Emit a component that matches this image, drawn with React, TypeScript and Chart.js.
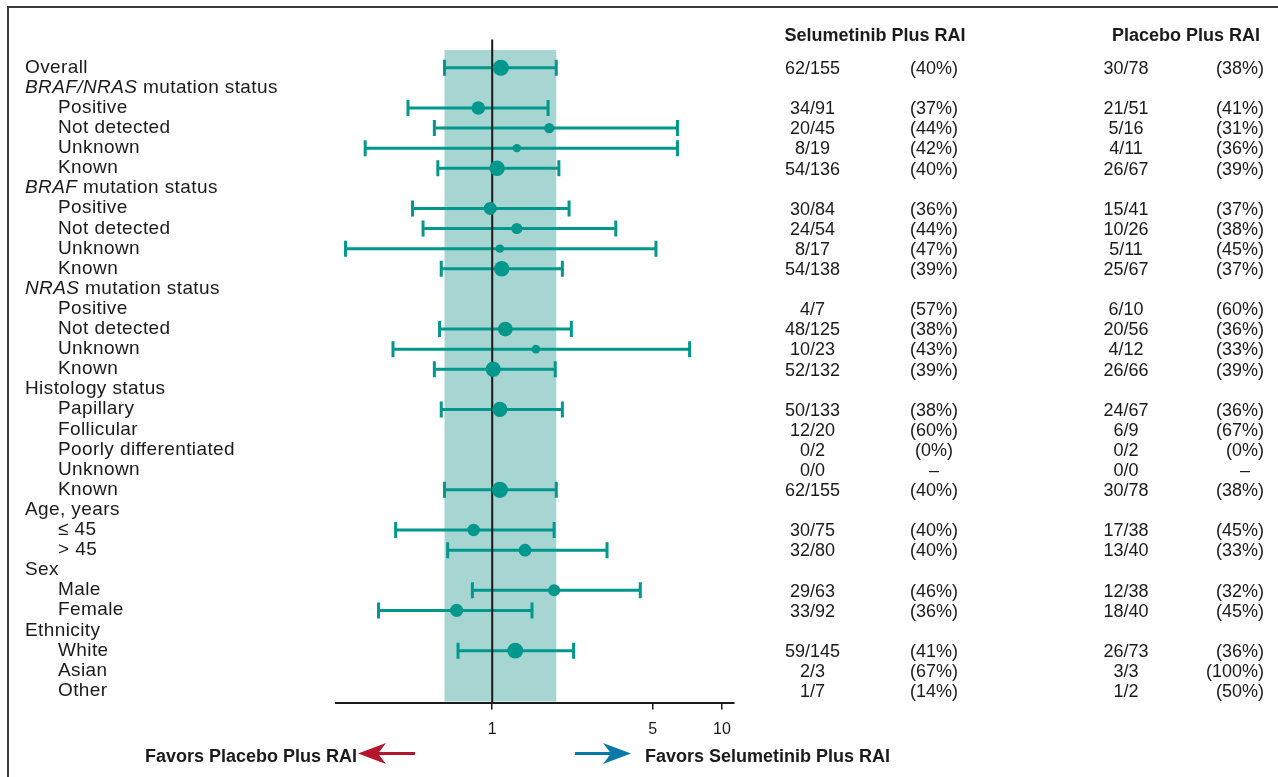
import React, { useEffect, useRef } from 'react';
import { Chart, registerables } from 'chart.js';

Chart.register(...registerables);

// ---------- data ----------
const rowLabels = [
  'Overall',
  '*BRAF/NRAS* mutation status',
  'Positive', 'Not detected', 'Unknown', 'Known',
  '*BRAF* mutation status',
  'Positive', 'Not detected', 'Unknown', 'Known',
  '*NRAS* mutation status',
  'Positive', 'Not detected', 'Unknown', 'Known',
  'Histology status',
  'Papillary', 'Follicular', 'Poorly differentiated', 'Unknown', 'Known',
  'Age, years',
  '\u2264 45', '> 45',
  'Sex',
  'Male', 'Female',
  'Ethnicity',
  'White', 'Asian', 'Other',
];

// 0 = group / top level, 1 = subgroup
const rowLevel = [0, 0, 1, 1, 1, 1, 0, 1, 1, 1, 1, 0, 1, 1, 1, 1, 0, 1, 1, 1, 1, 1, 0, 1, 1, 0, 1, 1, 0, 1, 1, 1];

const selFrac = ['62/155', '', '34/91', '20/45', '8/19', '54/136', '', '30/84', '24/54', '8/17', '54/138', '', '4/7', '48/125', '10/23', '52/132', '', '50/133', '12/20', '0/2', '0/0', '62/155', '', '30/75', '32/80', '', '29/63', '33/92', '', '59/145', '2/3', '1/7'];
const selPct = ['(40%)', '', '(37%)', '(44%)', '(42%)', '(40%)', '', '(36%)', '(44%)', '(47%)', '(39%)', '', '(57%)', '(38%)', '(43%)', '(39%)', '', '(38%)', '(60%)', '(0%)', '\u2013', '(40%)', '', '(40%)', '(40%)', '', '(46%)', '(36%)', '', '(41%)', '(67%)', '(14%)'];
const plaFrac = ['30/78', '', '21/51', '5/16', '4/11', '26/67', '', '15/41', '10/26', '5/11', '25/67', '', '6/10', '20/56', '4/12', '26/66', '', '24/67', '6/9', '0/2', '0/0', '30/78', '', '17/38', '13/40', '', '12/38', '18/40', '', '26/73', '3/3', '1/2'];
const plaPct = ['(38%)', '', '(41%)', '(31%)', '(36%)', '(39%)', '', '(37%)', '(38%)', '(45%)', '(37%)', '', '(60%)', '(36%)', '(33%)', '(39%)', '', '(36%)', '(67%)', '(0%)', '\u2013', '(38%)', '', '(45%)', '(33%)', '', '(32%)', '(45%)', '', '(36%)', '(100%)', '(50%)'];

const hrEst = [1.09, null, 0.87, 1.77, 1.28, 1.05, null, 0.98, 1.28, 1.08, 1.10, null, null, 1.14, 1.55, 1.01, null, 1.08, null, null, null, 1.08, null, 0.83, 1.39, null, 1.86, 0.70, null, 1.26, null, null];
const hrLow = [0.62, null, 0.43, 0.56, 0.28, 0.58, null, 0.45, 0.50, 0.23, 0.60, null, null, 0.59, 0.37, 0.56, null, 0.60, null, null, null, 0.62, null, 0.38, 0.64, null, 0.82, 0.32, null, 0.71, null, null];
const hrHigh = [1.90, null, 1.75, 6.4, 6.4, 1.95, null, 2.16, 3.45, 5.16, 2.02, null, null, 2.21, 7.23, 1.88, null, 2.02, null, null, null, 1.90, null, 1.86, 3.16, null, 4.41, 1.49, null, 2.26, null, null];

const xTicks = [1, 5, 10];
const xMin = 0.209;
const xMax = 11.28;

const colHeaders = ['Selumetinib Plus RAI', 'Placebo Plus RAI'];
const favorsLeft = 'Favors Placebo Plus RAI';
const favorsRight = 'Favors Selumetinib Plus RAI';

// ---------- styles ----------
const FONT = '"Liberation Sans", Arial, Helvetica, sans-serif';
const TEAL = '#00978d';
const BAND = '#a7d6d2';
const INK = '#1a1a1a';
const RED = '#b3172d';
const BLUE = '#0a78a8';

function denom(s: string): number {
  const p = s.split('/');
  return p.length === 2 ? Number(p[1]) : 0;
}

const points = rowLabels
  .map((_, i) => i)
  .filter((i) => hrEst[i] != null)
  .map((i) => ({ x: hrEst[i] as number, y: i, n: denom(selFrac[i]) + denom(plaFrac[i]) }));

const forestPlugin = {
  id: 'forest',
  beforeDraw(chart: any) {
    const { ctx, chartArea } = chart;
    const xs = chart.scales.x;
    const ys = chart.scales.y;
    // overall CI band
    const x0 = xs.getPixelForValue(hrLow[0] as number);
    const x1 = xs.getPixelForValue(hrHigh[0] as number);
    const yTop = ys.getPixelForValue(-0.88);
    ctx.save();
    ctx.fillStyle = BAND;
    ctx.fillRect(x0, yTop, x1 - x0, chartArea.bottom - 1 - yTop);
    ctx.restore();
  },
  beforeDatasetsDraw(chart: any) {
    const { ctx, chartArea } = chart;
    const xs = chart.scales.x;
    const ys = chart.scales.y;
    ctx.save();
    ctx.strokeStyle = TEAL;
    ctx.lineWidth = 3;
    for (let i = 0; i < rowLabels.length; i++) {
      if (hrEst[i] == null) continue;
      const py = ys.getPixelForValue(i);
      const a = xs.getPixelForValue(hrLow[i] as number);
      const b = xs.getPixelForValue(hrHigh[i] as number);
      ctx.beginPath();
      ctx.moveTo(a, py);
      ctx.lineTo(b, py);
      ctx.moveTo(a, py - 8);
      ctx.lineTo(a, py + 8);
      ctx.moveTo(b, py - 8);
      ctx.lineTo(b, py + 8);
      ctx.stroke();
    }
    // reference line at 1
    const rx = xs.getPixelForValue(1);
    ctx.strokeStyle = INK;
    ctx.lineWidth = 2;
    ctx.beginPath();
    ctx.moveTo(rx, chartArea.top);
    ctx.lineTo(rx, chartArea.bottom);
    ctx.stroke();
    ctx.restore();
  },
  afterDraw(chart: any) {
    const { ctx } = chart;
    const ys = chart.scales.y;
    ctx.save();
    // frame
    ctx.strokeStyle = '#3c3c3c';
    ctx.lineWidth = 2;
    ctx.beginPath();
    ctx.moveTo(8, 777);
    ctx.lineTo(8, 7);
    ctx.lineTo(1278, 7);
    ctx.stroke();

    ctx.fillStyle = INK;
    // column headers
    ctx.font = `bold 18px ${FONT}`;
    ctx.textAlign = 'center';
    ctx.textBaseline = 'alphabetic';
    ctx.fillText(colHeaders[0], 875, 41);
    ctx.fillText(colHeaders[1], 1186, 41);

    // row labels
    ctx.textAlign = 'left';
    for (let i = 0; i < rowLabels.length; i++) {
      const py = ys.getPixelForValue(i) + 5;
      let x = rowLevel[i] === 0 ? 25 : 58;
      const parts = rowLabels[i].split('*');
      parts.forEach((seg, k) => {
        if (!seg) return;
        ctx.font = `${k % 2 === 1 ? 'italic ' : ''}19px ${FONT}`;
        (ctx as any).letterSpacing = '0.4px';
        ctx.fillText(seg, x, py);
        x += ctx.measureText(seg).width;
      });
    }
    (ctx as any).letterSpacing = '0px';

    // numeric columns
    ctx.font = `18px ${FONT}`;
    for (let i = 0; i < rowLabels.length; i++) {
      const py = ys.getPixelForValue(i) + 6.3;
      ctx.textAlign = 'center';
      if (selFrac[i]) ctx.fillText(selFrac[i], 812.5, py);
      if (selPct[i]) ctx.fillText(selPct[i], 934, py);
      if (plaFrac[i]) ctx.fillText(plaFrac[i], 1126, py);
      ctx.textAlign = 'right';
      if (plaPct[i]) ctx.fillText(plaPct[i], plaPct[i] === '\u2013' ? 1250 : 1264, py);
    }

    // favors arrows + text
    ctx.font = `bold 18px ${FONT}`;
    ctx.textAlign = 'right';
    ctx.fillText(favorsLeft, 357, 762);
    ctx.textAlign = 'left';
    ctx.fillText(favorsRight, 645, 762);

    const ay = 753.5;
    // red arrow (pointing left)
    ctx.strokeStyle = RED;
    ctx.fillStyle = RED;
    ctx.lineWidth = 3;
    ctx.beginPath();
    ctx.moveTo(376, ay);
    ctx.lineTo(415, ay);
    ctx.stroke();
    ctx.beginPath();
    ctx.moveTo(358, ay);
    ctx.lineTo(386, ay - 10.5);
    ctx.lineTo(378, ay);
    ctx.lineTo(386, ay + 10.5);
    ctx.closePath();
    ctx.fill();
    // blue arrow (pointing right)
    ctx.strokeStyle = BLUE;
    ctx.fillStyle = BLUE;
    ctx.beginPath();
    ctx.moveTo(575, ay);
    ctx.lineTo(612, ay);
    ctx.stroke();
    ctx.beginPath();
    ctx.moveTo(631, ay);
    ctx.lineTo(603, ay - 10.5);
    ctx.lineTo(611, ay);
    ctx.lineTo(603, ay + 10.5);
    ctx.closePath();
    ctx.fill();
    ctx.restore();
  },
};

export default function App() {
  const ref = useRef<HTMLCanvasElement>(null);
  useEffect(() => {
    if (!ref.current) return;
    const chart = new Chart(ref.current, {
      type: 'scatter',
      data: {
        datasets: [
          {
            data: points as any,
            backgroundColor: TEAL,
            borderColor: TEAL,
            borderWidth: 0,
            pointRadius: points.map((p) => 2 + 0.4 * Math.sqrt(p.n)),
            pointHoverRadius: points.map((p) => 2 + 0.4 * Math.sqrt(p.n)),
          },
        ],
      },
      options: {
        animation: false,
        responsive: false,
        events: [],
        layout: { padding: { left: 336, right: 1278 - 734, top: 39.6, bottom: 34.5 } },
        plugins: { legend: { display: false }, tooltip: { enabled: false } },
        scales: {
          x: {
            type: 'logarithmic',
            min: xMin,
            max: xMax,
            afterBuildTicks: (s: any) => {
              s.ticks = xTicks.map((v) => ({ value: v }));
            },
            afterFit: (s: any) => {
              s.height = 40;
            },
            grid: { drawOnChartArea: false, drawTicks: true, tickLength: 7, color: INK, lineWidth: 1.5 },
            border: { display: true, color: INK, width: 2 },
            ticks: {
              autoSkip: false,
              maxRotation: 0,
              padding: 10,
              color: INK,
              font: { family: FONT, size: 16 },
              callback: (v: any) => String(v),
            },
          },
          y: { type: 'linear', reverse: true, min: -1.4, max: 31.58, display: false },
        },
      },
      plugins: [forestPlugin],
    });
    return () => chart.destroy();
  }, []);
  return (
    <div style={{ position: 'fixed', left: 0, top: 0, width: 1278, height: 777, background: '#fff' }}>
      <canvas ref={ref} width={1278} height={777} style={{ display: 'block' }} />
    </div>
  );
}
